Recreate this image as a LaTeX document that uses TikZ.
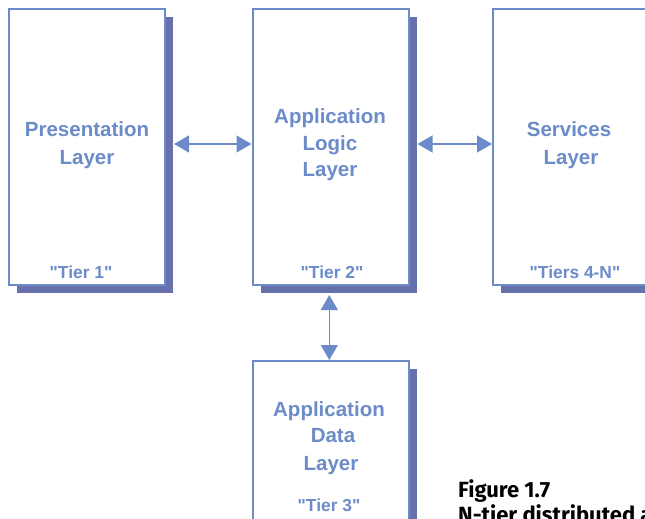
\documentclass[tikz,border=0pt]{standalone}
\usepackage{fontspec}
\setmainfont{Liberation Sans}[Ligatures=TeXOff]
\newfontfamily\capfont{Fira Sans}
\usetikzlibrary{arrows.meta,shadows}
\definecolor{boxblue}{RGB}{107,140,200}
\definecolor{shadowc}{RGB}{102,112,170}
\tikzset{
  tierbox/.style={draw=boxblue, line width=2pt, fill=white, inner sep=0pt,
    minimum width=156pt,
    drop shadow={shadow xshift=8pt, shadow yshift=-8pt, fill=shadowc, opacity=1}},
  lbl/.style={text=boxblue, font=\bfseries\fontsize{20.5}{24}\selectfont, anchor=base, inner sep=0pt},
  tierlbl/.style={text=boxblue, font=\bfseries\fontsize{17.4}{20}\selectfont, anchor=base, inner sep=0pt},
  caption/.style={font=\capfont\bfseries\fontsize{22}{25}\selectfont, anchor=base west, inner sep=0pt},
  link/.style={draw=boxblue, line width=1.3pt, {Triangle[length=15pt,width=17pt]}-{Triangle[length=15pt,width=17pt]}}
}
\begin{document}
\begin{tikzpicture}[x=1pt,y=-1pt]
\useasboundingbox (0,0) rectangle (645,519);
\begin{scope}
\clip (0,0) rectangle (645,519);
% boxes
\node[tierbox, minimum height=276pt] (b1) at (87,147) {};
\node[tierbox, minimum height=276pt] (b2) at (330.5,147) {};
\node[tierbox, minimum height=276pt] (b3) at (571,147) {};
\node[tierbox, minimum height=200pt] (b4) at (330.5,461) {};
% labels
\node[lbl] (p1) at (87,136) {Presentation};
\node[lbl] (p2) at (87,164) {Layer};
\node[tierlbl] (p3) at (81,278) {"Tier 1"};
\node[lbl] (a1) at (330,123) {Application};
\node[lbl] (a2) at (330,150) {Logic};
\node[lbl] (a3) at (330,176) {Layer};
\node[tierlbl] (a4) at (332,278) {"Tier 2"};
\node[lbl] (s1) at (569,136) {Services};
\node[lbl] (s2) at (571,164) {Layer};
\node[tierlbl] (s3) at (575,278) {"Tiers 4-N"};
\node[lbl] (d1) at (329,416) {Application};
\node[lbl] (d2) at (333,442) {Data};
\node[lbl] (d3) at (331,470) {Layer};
\node[tierlbl] (d4) at (329,511) {"Tier 3"};
% connectors
\draw[link] ([xshift=8pt,yshift=3pt]b1.east) -- ([yshift=3pt]b2.west);
\draw[link] ([xshift=8pt,yshift=3pt]b2.east) -- ([yshift=3pt]b3.west);
\draw[link] ([xshift=-1.2pt,yshift=-9pt]b2.south) -- ([xshift=-1.2pt]b4.north);
% caption
\node[caption] (c1) at (458,497) {Figure 1.7};
\node[caption] (c2) at (458,522) {N-tier distributed application};
\end{scope}
\end{tikzpicture}
\end{document}
